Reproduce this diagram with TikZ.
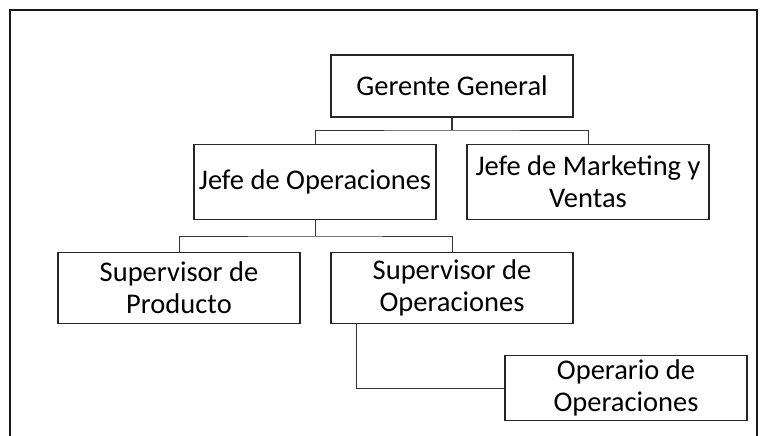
\documentclass[tikz,border=0pt]{standalone}
\usepackage{fontspec}
\setmainfont{Carlito}
\begin{document}
\begin{tikzpicture}[x=1pt,y=-1pt,
 box/.style={draw=black!85, line width=1.3pt, fill=white, align=center,
   font=\fontsize{28.5}{32}\selectfont, inner sep=0pt,
   minimum width=242pt, minimum height=66pt},
 link/.style={draw=black!80, line width=1pt}]
\useasboundingbox (0,0) rectangle (768,436);
\draw[line width=1.5pt, black!90] (10,440) -- (10,10) -- (757,10) -- (757,440);
\node[box, minimum height=62pt] (gg) at (452,86) {Gerente General};
\node[box, minimum height=75pt] (jo) at (315,182) {Jefe de Operaciones};
\node[box, minimum height=75pt] (jm) at (588,182) {Jefe de Marketing y\\Ventas};
\node[box, minimum height=71pt] (sp) at (179,288) {Supervisor de\\Producto};
\node[box, minimum height=71pt] (so) at (452,288) {Supervisor de\\Operaciones};
\node[box, minimum height=65pt] (op) at (626,388) {Operario de\\Operaciones};
\coordinate (b1) at (452,130);
\coordinate (b2) at (315,236);
\draw[link, line width=2.2pt] (gg.south) -- (b1);
\draw[link] (jo.north) |- (b1) -| (jm.north);
\draw[link] (jo.south) -- (b2);
\draw[link] (sp.north) |- (b2) -| (so.north);
\draw[link] ([xshift=-96pt]so.south) |- (op.west);
\end{tikzpicture}
\end{document}
